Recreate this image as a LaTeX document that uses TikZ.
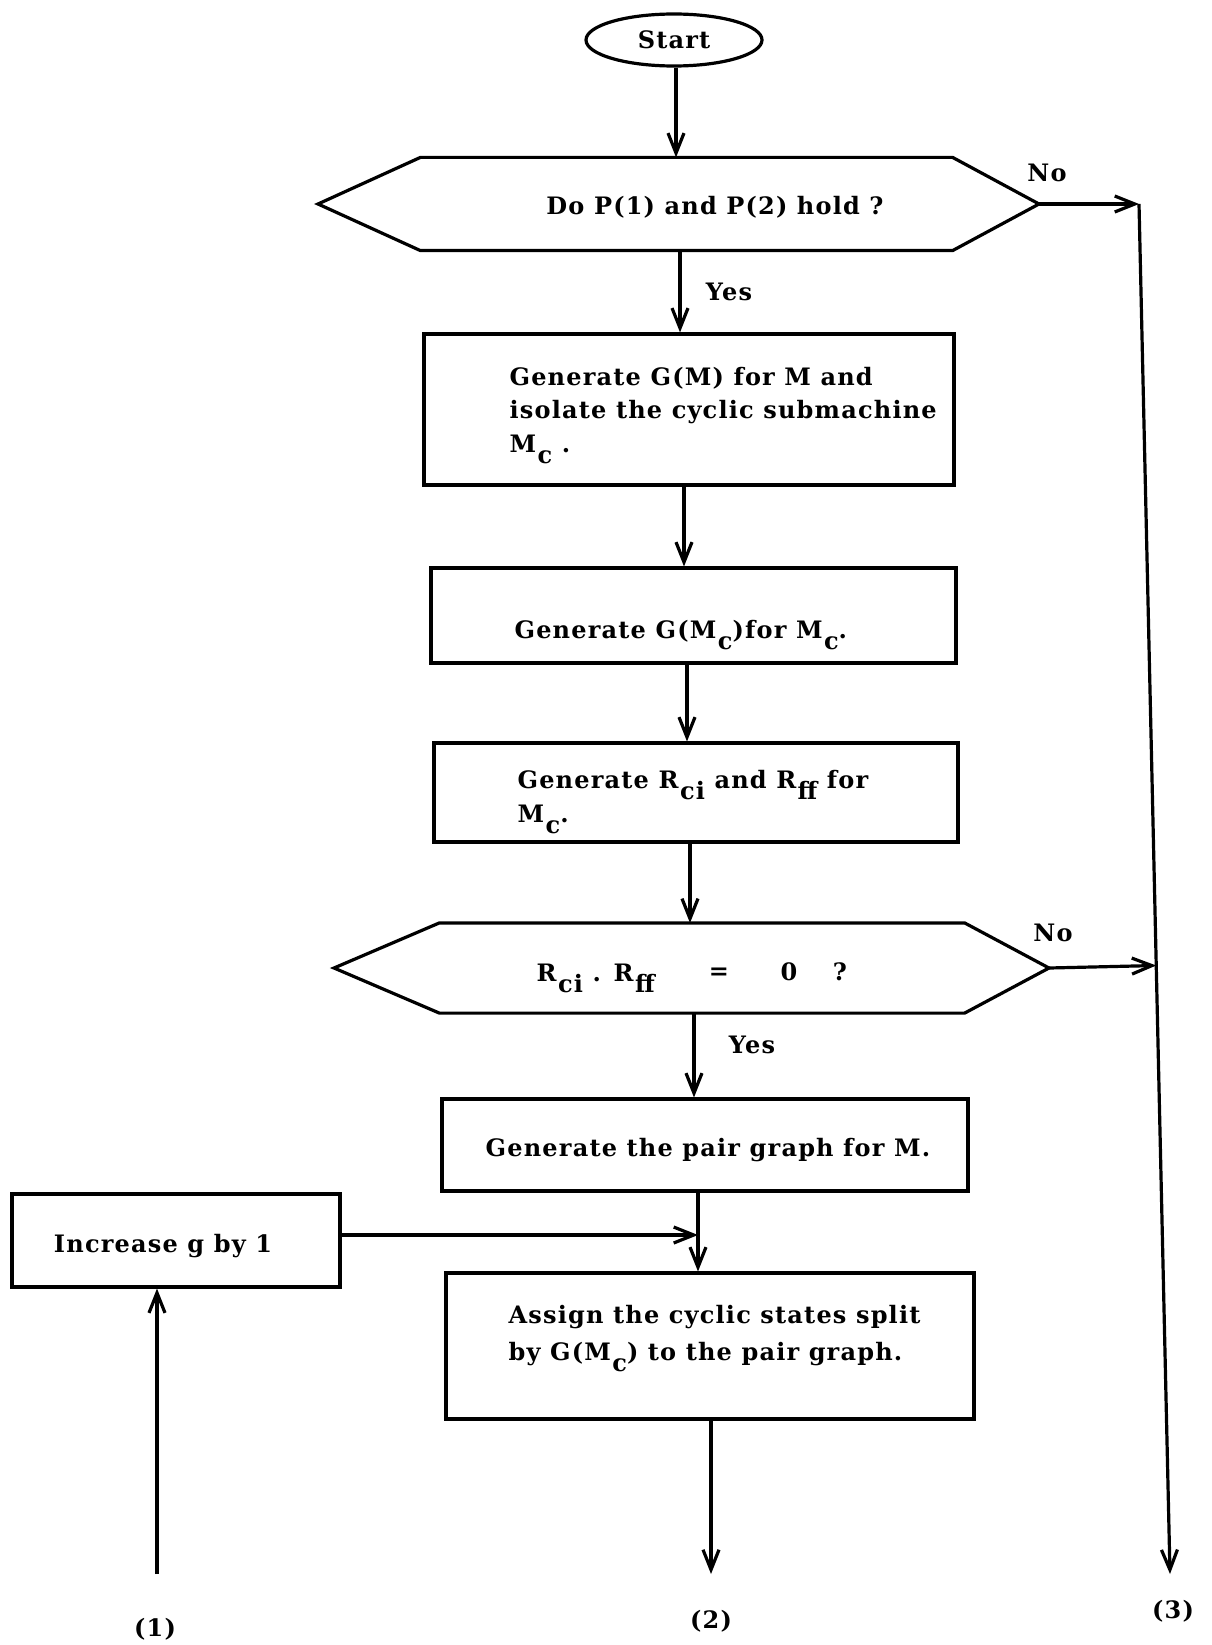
\documentclass[tikz,border=0pt]{standalone}
\usepackage{fontspec}
\setmainfont{DejaVu Serif}[LetterSpace=5]
\usetikzlibrary{shapes.geometric,arrows.meta,calc}
\newcommand{\dn}[1]{\hspace{1.5pt}\raisebox{-11pt}{#1}}
\begin{document}
\begin{tikzpicture}[x=1pt,y=-1pt,
  font=\fontsize{24}{30}\selectfont\bfseries,
  line width=3.2pt,
  box/.style={draw, rectangle, inner sep=0pt},
  txt/.style={inner sep=0pt, anchor=base west},
  lbl/.style={inner sep=0pt},
  arr/.style={-{Straight Barb[length=20pt,width=16pt]}}]
\useasboundingbox (0,0) rectangle (1211,1645);

% Start
\node[draw, ellipse, minimum width=176pt, minimum height=52pt, inner sep=0pt] (start) at (674,40) {Start};

% Decision 1
\node[inner sep=0pt, minimum width=529pt, minimum height=90pt] (d1) at (686.5,204) {};
\coordinate (d1r) at (1039,204);
\coordinate (d1l) at (318,204);
\draw (d1.north west) -- (d1.north east) -- (d1r) -- (d1.south east) -- (d1.south west) -- (d1l) -- cycle;
\node[lbl] (d1t) at (715,207) {Do P(1) and P(2) hold ?};
\node[lbl] (no1) at (1047,173) {No};
\node[lbl] (yes1) at (729,292) {Yes};

% Box 1
\node[box, minimum width=530pt, minimum height=151pt] (b1) at (689,409.5) {};
\node[txt] (b1a) at (508,385) {Generate G(M) for M and};
\node[txt] (b1b) at (508,418) {isolate the cyclic submachine};
\node[txt] (b1c) at (508,452) {M\dn{c} .};

% Box 2
\node[box, minimum width=525pt, minimum height=95pt] (b2) at (693.5,615.5) {};
\node[txt] (b2a) at (513,638) {Generate G(M\dn{c})for M\dn{c}.};

% Box 3
\node[box, minimum width=524pt, minimum height=99pt] (b3) at (696,792.5) {};
\node[txt] (b3a) at (516,788) {Generate R\dn{ci} and R\dn{ff} for};
\node[txt] (b3b) at (516,822) {M\dn{c}.};

% Decision 2
\node[inner sep=0pt, minimum width=522pt, minimum height=87pt] (d2) at (702,968) {};
\coordinate (d2r) at (1049,968);
\coordinate (d2l) at (334,968);
\draw (d2.north west) -- (d2.north east) -- (d2r) -- (d2.south east) -- (d2.south west) -- (d2l) -- cycle;
\node[txt] (d2t) at (535,981) {R\dn{ci} . R\dn{ff}};
\node[lbl] (d2eq) at (719,974) {=};
\node[lbl] (d2z) at (789,972) {0};
\node[lbl] (d2q) at (840,972) {?};
\node[lbl] (no2) at (1053,933) {No};
\node[lbl] (yes2) at (752,1045) {Yes};

% Box 4
\node[box, minimum width=526pt, minimum height=92pt] (b4) at (705,1145) {};
\node[lbl] (b4t) at (708,1150) {Generate the pair graph for M.};

% Box 5
\node[box, minimum width=528pt, minimum height=146pt] (b5) at (710,1346) {};
\node[txt] (b5a) at (507,1323) {Assign the cyclic states split};
\node[txt] (b5b) at (507,1360) {by G(M\dn{c}) to the pair graph.};

% Box 6
\node[box, minimum width=328pt, minimum height=93pt] (b6) at (176,1240.5) {};
\node[lbl] (b6t) at (163,1246) {Increase g by 1};

% free ends and labels
\coordinate (rt) at (1139,204);
\coordinate (rb) at (1170,1574);
\coordinate (c1) at (157,1574);
\coordinate (c2) at (711,1574);
\coordinate (j) at (698,1235);
\node[lbl] (l1) at (155,1629) {(1)};
\node[lbl] (l2) at (711,1621) {(2)};
\node[lbl] (l3) at (1173,1611) {(3)};

% connectors
\draw[arr] (start.south -| 676,0) -- (d1.north -| 676,0);
\draw[arr] (d1.south -| 680,0) -- (b1.north -| 680,0);
\draw[arr] (b1.south -| 684,0) -- (b2.north -| 684,0);
\draw[arr] (b2.south -| 687,0) -- (b3.north -| 687,0);
\draw[arr] (b3.south -| 690,0) -- (d2.north -| 690,0);
\draw[arr] (d2.south -| 694,0) -- (b4.north -| 694,0);
\draw[arr] (b4.south -| 698,0) -- (b5.north -| 698,0);
\draw[arr] (b6.east |- j) -- (j);
\draw[arr] (b5.south -| c2) -- (c2);
\draw[arr] (c1) -- (b6.south -| c1);
\draw[arr] (d1r) -- (rt);
\draw[arr] (rt) -- (rb);
\draw[arr] (d2r) -- ($(rt)!(d2r)!(rb)$);
\end{tikzpicture}
\end{document}
